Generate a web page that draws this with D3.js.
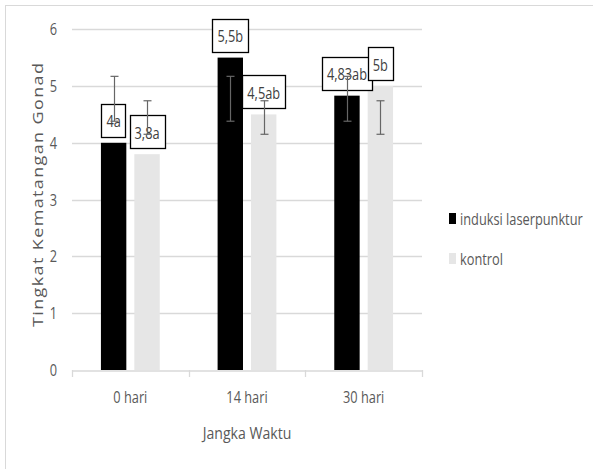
<!DOCTYPE html>
<html>
<head>
<meta charset="utf-8">
<script src="https://cdn.jsdelivr.net/npm/d3@7"></script>
<style>
  html, body { margin: 0; padding: 0; background: #fff; }
  svg { display: block; }
  text { font-family: "Open Sans", "Noto Sans", sans-serif; }
</style>
</head>
<body>
<svg id="chart" width="593" height="469"></svg>
<script>
// Categories (time after treatment) and series
const categories = ["0 hari", "14 hari", "30 hari"];
const seriesNames = ["induksi laserpunktur", "kontrol"];

// Mean gonad maturity level per series
const induksiValues = [4, 5.5, 4.83];
const kontrolValues = [3.8, 4.5, 5];

// Data labels with significance letters
const induksiLabels = ["4a", "5,5b", "4,83ab"];
const kontrolLabels = ["3,8a", "4,5ab", "5b"];

// Error bar ranges (lower, upper)
const induksiErrLow = [4.38, 4.38, 4.38];
const induksiErrHigh = [5.17, 5.17, 5.17];
const kontrolErrLow = [4.15, 4.15, 4.15];
const kontrolErrHigh = [4.74, 4.74, 4.74];

const yTicks = [0, 1, 2, 3, 4, 5, 6];

const colors = { "induksi laserpunktur": "#000000", "kontrol": "#e6e6e6" };
const squeeze = 0.8; // narrow text rendering

const series = [
  { name: seriesNames[0], values: induksiValues, labels: induksiLabels, lo: induksiErrLow, hi: induksiErrHigh },
  { name: seriesNames[1], values: kontrolValues, labels: kontrolLabels, lo: kontrolErrLow, hi: kontrolErrHigh }
];

const svg = d3.select("#chart");

// outer chart frame
svg.append("rect")
  .attr("x", 5.5).attr("y", 5.5)
  .attr("width", 620).attr("height", 480)
  .attr("fill", "none").attr("stroke", "#d9d9d9");

const plot = { left: 72, right: 422, top: 29.2, bottom: 370 };

const x = d3.scaleBand().domain(categories).range([plot.left, plot.right]).padding(0);
const xs = d3.scaleBand().domain(seriesNames)
  .range([x.bandwidth() * 0.248, x.bandwidth() * 0.752]).paddingInner(0.24);
const y = d3.scaleLinear().domain([0, 6]).range([plot.bottom, plot.top]);

// helper for horizontally narrowed text
function ntext(parent, px, py, str, opts) {
  const g = parent.append("g").attr("transform", `translate(${px},${py}) scale(${opts.sx || squeeze},1)`);
  return g.append("text")
    .attr("text-anchor", opts.anchor || "middle")
    .attr("dominant-baseline", opts.baseline || "central")
    .attr("font-size", opts.size || 15)
    .attr("fill", opts.fill || "#595959")
    .text(str);
}

// gridlines
svg.append("g").selectAll("line").data(yTicks.filter(t => t > 0)).join("line")
  .attr("x1", plot.left).attr("x2", plot.right)
  .attr("y1", d => Math.round(y(d)) + 0.5).attr("y2", d => Math.round(y(d)) + 0.5)
  .attr("stroke", "#d9d9d9").attr("stroke-width", 1.3);

// y tick labels
yTicks.forEach(t => ntext(svg, 57, y(t), String(t), { anchor: "end", size: 16 }));

// x axis baseline and category boundary ticks
const xAxis = d3.axisBottom(x).tickSize(0).tickFormat("");
const xa = svg.append("g").attr("transform", `translate(0,${Math.round(plot.bottom) + 0.5})`).call(xAxis);
xa.select(".domain").attr("stroke", "#d9d9d9").attr("stroke-width", 1.3);
const bounds = categories.map(c => x(c)).concat([x(categories[categories.length - 1]) + x.bandwidth()]);
svg.append("g").selectAll("line").data(bounds).join("line")
  .attr("x1", d => Math.round(d) + 0.5).attr("x2", d => Math.round(d) + 0.5)
  .attr("y1", plot.bottom).attr("y2", plot.bottom + 7)
  .attr("stroke", "#d9d9d9").attr("stroke-width", 1.3);

// category labels
categories.forEach(c => ntext(svg, x(c) + x.bandwidth() / 2, 397, c, { size: 16 }));

// axis titles
ntext(svg, (plot.left + plot.right) / 2, 433, "Jangka Waktu", { size: 16, sx: 0.88 });
svg.append("g")
  .attr("transform", `translate(38,${(62 + 328) / 2}) rotate(-90) scale(1,0.8)`)
  .append("text")
  .attr("text-anchor", "middle").attr("dominant-baseline", "central")
  .attr("font-size", 18).attr("fill", "#595959")
  .attr("textLength", 264).attr("lengthAdjust", "spacing")
  .text("Tingkat Kematangan Gonad");

// bars
series.forEach(s => {
  svg.append("g").selectAll("rect").data(categories).join("rect")
    .attr("x", c => x(c) + xs(s.name))
    .attr("y", (c, i) => y(s.values[i]))
    .attr("width", xs.bandwidth())
    .attr("height", (c, i) => y(0) - y(s.values[i]))
    .attr("fill", colors[s.name]);
});

// data labels in boxes
series.forEach(s => {
  categories.forEach((c, i) => {
    const cx = x(c) + xs(s.name) + xs.bandwidth() / 2;
    const boxH = 33;
    const bottom = y(s.values[i]) - 6;
    const g = svg.append("g");
    const rect = g.append("rect");
    const t = ntext(g, cx, bottom - boxH / 2 + 1, s.labels[i], { size: 16, fill: "#404040" });
    const w = t.node().getComputedTextLength() * squeeze + 10;
    rect.attr("x", Math.round(cx - w / 2) + 0.5).attr("y", Math.round(bottom - boxH) + 0.5)
      .attr("width", Math.round(w)).attr("height", boxH)
      .attr("fill", "#fff").attr("stroke", "#000").attr("stroke-width", 1.3);
  });
});

// error bars
series.forEach(s => {
  categories.forEach((c, i) => {
    const cx = Math.round(x(c) + xs(s.name) + xs.bandwidth() / 2) + 0.5;
    const g = svg.append("g").attr("stroke", "#666666").attr("stroke-width", 1.2);
    g.append("line").attr("x1", cx).attr("x2", cx).attr("y1", y(s.hi[i])).attr("y2", y(s.lo[i]));
    [s.hi[i], s.lo[i]].forEach(v => {
      g.append("line").attr("x1", cx - 4).attr("x2", cx + 4).attr("y1", y(v)).attr("y2", y(v));
    });
  });
});

// legend
const legend = svg.append("g");
seriesNames.forEach((n, i) => {
  const ly = 218.5 + i * 40;
  legend.append("rect").attr("x", 449).attr("y", ly - 5.5).attr("width", 7).attr("height", 11)
    .attr("fill", colors[n]);
  ntext(legend, 460, ly, n, { anchor: "start", size: 16, sx: 0.8 });
});
</script>
</body>
</html>
